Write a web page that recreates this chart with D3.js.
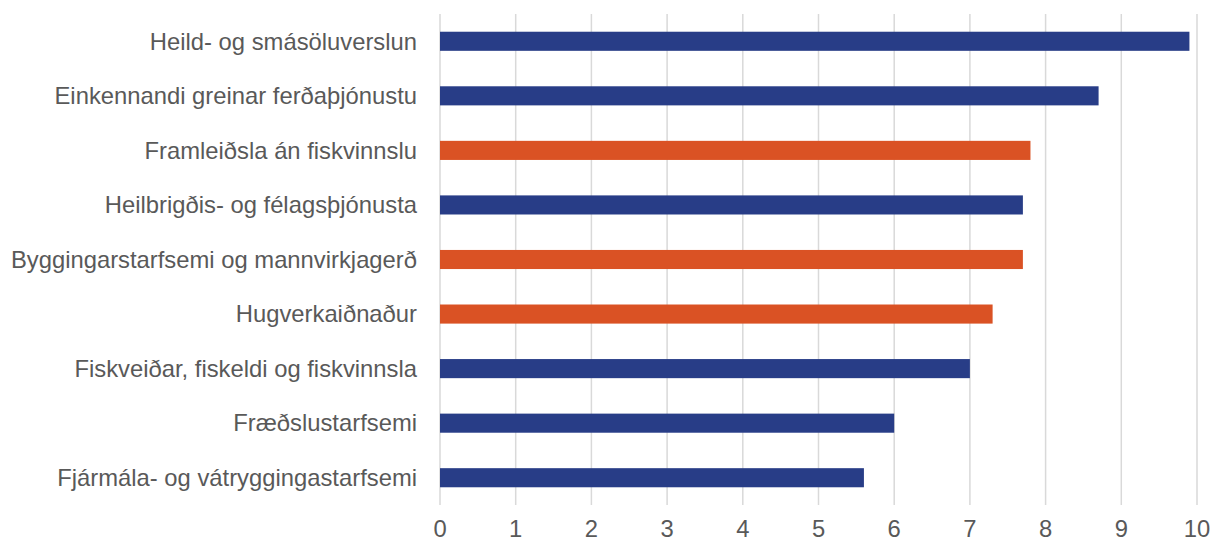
<!DOCTYPE html>
<html><head><meta charset="utf-8">
<script src="https://cdn.jsdelivr.net/npm/d3@7"></script>
<style>body{margin:0;background:#fff}svg{display:block}</style>
</head><body>
<svg id="c" width="1211" height="543"></svg>
<script>
const categories = ["Heild- og smásöluverslun","Einkennandi greinar ferðaþjónustu","Framleiðsla án fiskvinnslu","Heilbrigðis- og félagsþjónusta","Byggingarstarfsemi og mannvirkjagerð","Hugverkaiðnaður","Fiskveiðar, fiskeldi og fiskvinnsla","Fræðslustarfsemi","Fjármála- og vátryggingastarfsemi"];
const values = [9.9, 8.7, 7.8, 7.7, 7.7, 7.3, 7.0, 6.0, 5.6];
const highlight = [false, false, true, false, true, true, false, false, false];
const ticks = [0,1,2,3,4,5,6,7,8,9,10];

const svg = d3.select("#c");
const m = {l:440, r:14, t:14, b:38};
const W = 1211, H = 543;
const x = d3.scaleLinear().domain([0,10]).range([m.l, W - m.r]);
const y = d3.scaleBand().domain(categories).range([m.t, H - m.b]).paddingInner(0.65).paddingOuter(0.325);

svg.append("g").selectAll("line").data(ticks).join("line")
  .attr("x1", d=>x(d)).attr("x2", d=>x(d))
  .attr("y1", m.t).attr("y2", H - m.b)
  .attr("stroke", "#d9d9d9").attr("stroke-width", 1.5);

svg.append("g").selectAll("rect").data(categories).join("rect")
  .attr("x", x(0)).attr("y", d=>y(d))
  .attr("width", (d,i)=>x(values[i]) - x(0))
  .attr("height", y.bandwidth())
  .attr("fill", (d,i)=>highlight[i] ? "#DA5224" : "#283D87");

const font = "'Liberation Sans', Arial, sans-serif";
svg.append("g").selectAll("text").data(categories).join("text")
  .attr("x", m.l - 23).attr("y", d=>y(d) + y.bandwidth()/2)
  .attr("dy", "0.35em").attr("text-anchor", "end")
  .attr("font-family", font).attr("font-size", 23.8).attr("fill", "#595959")
  .text(d=>d);

svg.append("g").selectAll("text").data(ticks).join("text")
  .attr("x", d=>x(d)).attr("y", 537)
  .attr("text-anchor", "middle")
  .attr("font-family", font).attr("font-size", 23.8).attr("fill", "#595959")
  .text(d=>d);
</script>
</body></html>
